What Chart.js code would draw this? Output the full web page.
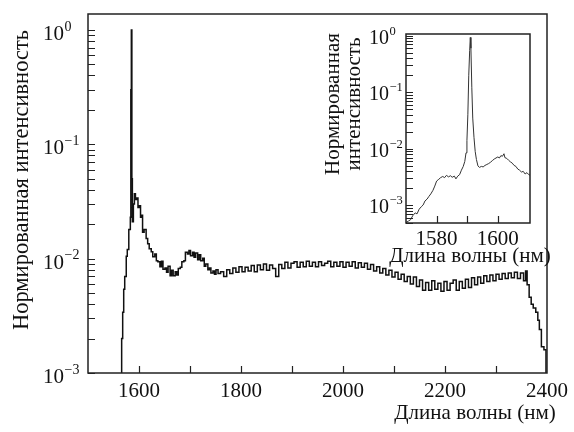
<!DOCTYPE html>
<html>
<head>
<meta charset="utf-8">
<script src="https://cdn.jsdelivr.net/npm/chart.js@4.4.1/dist/chart.umd.min.js"></script>
<style>
  html, body { margin: 0; padding: 0; background: #fff; }
  #wrap { position: relative; width: 574px; height: 432px; }
  #main { position: absolute; left: 0; top: 0; }
  #inset { position: absolute; left: 320px; top: 0; }
</style>
</head>
<body>
<div id="wrap">
  <canvas id="main" width="574" height="432"></canvas>
  <canvas id="inset" width="254" height="272"></canvas>
</div>
<script>
// ---- data ----
// main spectrum: wavelength (nm) and normalised intensity
var mainWavelength = [
  1560, 1566, 1568, 1570, 1572, 1575, 1577, 1580, 1583, 1584, 1585, 1586, 1587, 1589, 1591, 1593,
  1595, 1598, 1600, 1603, 1605, 1607, 1610, 1614, 1617, 1620, 1624, 1627, 1631, 1634, 1637, 1641,
  1644, 1647, 1651, 1654, 1657, 1661, 1664, 1667, 1671, 1674, 1677, 1681, 1684, 1688, 1691, 1695,
  1698, 1701, 1705, 1708, 1711, 1715, 1718, 1721, 1725, 1728, 1731, 1735, 1738, 1741, 1745, 1748,
  1751, 1755, 1760, 1766, 1772, 1778, 1784, 1790, 1796, 1802, 1808, 1814, 1820, 1826, 1832, 1838,
  1844, 1850, 1856, 1862, 1868, 1874, 1880, 1886, 1892, 1898, 1904, 1910, 1916, 1922, 1928, 1934,
  1940, 1946, 1952, 1958, 1964, 1970, 1976, 1982, 1988, 1994, 2000, 2006, 2012, 2018, 2024, 2030,
  2036, 2042, 2048, 2054, 2060, 2066, 2072, 2078, 2084, 2090, 2096, 2102, 2108, 2114, 2120, 2126,
  2132, 2138, 2144, 2150, 2156, 2162, 2168, 2174, 2180, 2186, 2192, 2198, 2204, 2210, 2216, 2222,
  2228, 2234, 2240, 2246, 2252, 2258, 2264, 2270, 2276, 2282, 2288, 2294, 2300, 2306, 2312, 2318,
  2324, 2330, 2336, 2342, 2348, 2354, 2358, 2361, 2365, 2369, 2373, 2378, 2382, 2385, 2389, 2394,
  2398, 2400
];
var mainIntensity = [
  0.0008, 0.0020, 0.0034, 0.0054, 0.0070, 0.0105, 0.0120, 0.0180, 0.0230, 0.30, 1.0, 0.050, 0.021, 0.030, 0.037, 0.033,
  0.034, 0.028, 0.029, 0.023, 0.024, 0.017, 0.018, 0.0150, 0.0135, 0.0122, 0.0115, 0.0104, 0.0110, 0.0096, 0.0094, 0.0085,
  0.0095, 0.0081, 0.0083, 0.0076, 0.0086, 0.0071, 0.0079, 0.0071, 0.0077, 0.0072, 0.0082, 0.0084, 0.0094, 0.0096, 0.0114, 0.0110,
  0.0118, 0.0106, 0.0114, 0.0103, 0.0112, 0.0098, 0.0108, 0.0096, 0.0101, 0.0086, 0.0090, 0.0080, 0.0083, 0.0075, 0.0078, 0.0073,
  0.0080, 0.0074, 0.0077, 0.0070, 0.0080, 0.0074, 0.0083, 0.0076, 0.0085, 0.0077, 0.0084, 0.0078, 0.0087, 0.0077, 0.0088, 0.0080,
  0.0090, 0.0079, 0.0088, 0.0082, 0.0070, 0.0089, 0.0082, 0.0093, 0.0083, 0.0091, 0.0094, 0.0084, 0.0093, 0.0085, 0.0095, 0.0086,
  0.0093, 0.0085, 0.0094, 0.0087, 0.0091, 0.0095, 0.0085, 0.0093, 0.0086, 0.0094, 0.0084, 0.0093, 0.0086, 0.0094, 0.0083, 0.0092,
  0.0084, 0.0091, 0.0081, 0.0089, 0.0078, 0.0085, 0.0075, 0.0082, 0.0072, 0.0079, 0.0069, 0.0076, 0.0066, 0.0073, 0.0063, 0.0070,
  0.0060, 0.0069, 0.0057, 0.0065, 0.0053, 0.0062, 0.0053, 0.0064, 0.0054, 0.0061, 0.0052, 0.0063, 0.0053, 0.0061, 0.0065, 0.0053,
  0.0063, 0.0055, 0.0066, 0.0056, 0.0068, 0.0059, 0.0069, 0.0061, 0.0071, 0.0063, 0.0072, 0.0064, 0.0073, 0.0066, 0.0074, 0.0067,
  0.0075, 0.0068, 0.0076, 0.0067, 0.0075, 0.0064, 0.0078, 0.0059, 0.0046, 0.0040, 0.0037, 0.0034, 0.0029, 0.0024, 0.0017, 0.0016,
  0.0009, 0.0005
];

// inset: zoom on the peak
var insetWavelength = [
  1570.0, 1570.8, 1571.5, 1572.2, 1573.0, 1573.6, 1574.3, 1575.0, 1575.6, 1576.2, 1576.9, 1577.5, 1578.1, 1578.8, 1579.4, 1580.0,
  1580.7, 1581.3, 1582.0, 1582.6, 1583.2, 1583.9, 1584.5, 1585.1, 1585.8, 1586.3, 1586.9, 1587.5, 1588.1, 1588.7, 1589.2, 1589.6,
  1589.9, 1590.2, 1590.5, 1590.8, 1591.0, 1591.2, 1591.5, 1591.8, 1592.2, 1592.6, 1593.0, 1593.5, 1594.0, 1594.6, 1595.2, 1595.8,
  1596.4, 1597.0, 1597.6, 1598.2, 1598.8, 1599.4, 1600.0, 1600.5, 1601.0, 1601.5, 1602.0, 1602.3, 1602.9, 1603.5, 1604.1, 1604.7,
  1605.3, 1605.9, 1606.5, 1607.1, 1607.7, 1608.3, 1608.9, 1609.5, 1610.1, 1610.6
];
var insetIntensity = [
  0.00050, 0.00053, 0.00056, 0.00066, 0.00074, 0.00071, 0.00086, 0.00095, 0.00102, 0.0012, 0.0013, 0.00145, 0.0016, 0.00185, 0.0022, 0.0027,
  0.0029, 0.0031, 0.00325, 0.0031, 0.0034, 0.0032, 0.00335, 0.00315, 0.0033, 0.00295, 0.0033, 0.0035, 0.0042, 0.0049, 0.0060, 0.0085,
  0.014, 0.040, 0.20, 0.55, 0.93, 0.60, 0.12, 0.035, 0.016, 0.009, 0.0065, 0.0050, 0.0047, 0.0049, 0.0048, 0.0051,
  0.0053, 0.0055, 0.0058, 0.0062, 0.0066, 0.0069, 0.0072, 0.0069, 0.0076, 0.0074, 0.0082, 0.0070, 0.0068, 0.0063, 0.0059, 0.0056,
  0.0051, 0.0049, 0.0044, 0.0042, 0.0039, 0.0040, 0.0036, 0.0038, 0.0035, 0.0034
];

var mainXLabels = [1600, 1800, 2000, 2200, 2400];
var insetXLabels = [1580, 1600];
var yTitle = "Нормированная интенсивность";
var xTitle = "Длина волны (нм)";

var serif = '"Liberation Serif", "DejaVu Serif", serif';

function toPoints(xs, ys) {
  return xs.map(function (x, i) { return { x: x, y: ys[i] }; });
}

// draws "10" with a superscript exponent
function drawPower(ctx, x, y, exp, big, small) {
  ctx.font = big + "px " + serif;
  ctx.textAlign = "left";
  ctx.textBaseline = "alphabetic";
  ctx.fillText("10", x, y);
  var w = ctx.measureText("10").width;
  ctx.font = small + "px " + serif;
  ctx.fillText(exp, x + w + 0.5, y - big * 0.45);
}

// frame, inward ticks, log labels and titles
function decor(cfg) {
  return {
    id: "decor",
    afterDraw: function (chart) {
      var ctx = chart.ctx, a = chart.chartArea;
      var xs = chart.scales.x, ys = chart.scales.y;
      ctx.save();
      ctx.strokeStyle = "#222";
      ctx.fillStyle = "#111";
      ctx.lineWidth = cfg.frameWidth;
      ctx.strokeRect(a.left, a.top, a.right - a.left, a.bottom - a.top);

      ctx.lineWidth = 1.2;
      ctx.beginPath();
      xs.ticks.forEach(function (t) {
        var px = xs.getPixelForValue(t.value);
        if (px < a.left + 3 || px > a.right - 3) return;
        ctx.moveTo(Math.round(px) + 0.5, a.bottom);
        ctx.lineTo(Math.round(px) + 0.5, a.bottom - cfg.tickLen);
      });
      for (var d = -4; d <= 0; d++) {
        for (var m = 1; m <= 9; m++) {
          var v = m * Math.pow(10, d);
          if (v < ys.min * 0.999 || v > ys.max * 1.001) continue;
          var py = Math.round(ys.getPixelForValue(v)) + 0.5;
          ctx.moveTo(a.left, py);
          ctx.lineTo(a.left + cfg.tickLen, py);
        }
      }
      ctx.stroke();

      for (var e = -3; e <= 0; e++) {
        var yy = ys.getPixelForValue(Math.pow(10, e));
        drawPower(ctx, cfg.labelX, yy + cfg.labelDy, e === 0 ? "0" : "\u2212" + (-e), cfg.big, cfg.small);
      }

      ctx.textAlign = "center";
      ctx.textBaseline = "middle";
      ctx.font = cfg.xTitleSize + "px " + serif;
      ctx.fillText(xTitle, cfg.xTitle[0], cfg.xTitle[1]);
      ctx.font = cfg.yTitleSize + "px " + serif;
      cfg.yTitles.forEach(function (t) {
        ctx.save();
        ctx.translate(t[1], t[2]);
        ctx.rotate(-Math.PI / 2);
        ctx.fillText(t[0], 0, 0);
        ctx.restore();
      });
      ctx.restore();
    }
  };
}

function build() {
  // Main spectrum
  var ctx1 = document.getElementById("main").getContext("2d");
  new Chart(ctx1, {
    type: "line",
    data: {
      datasets: [{
        data: toPoints(mainWavelength, mainIntensity),
        borderColor: "#111",
        borderWidth: 1.5,
        stepped: true,
        pointRadius: 0,
        fill: false
      }]
    },
    options: {
      responsive: false,
      animation: false,
      events: [],
      layout: { padding: { left: 0, top: 14, right: 24, bottom: 0 } },
      plugins: { legend: { display: false }, tooltip: { enabled: false } },
      scales: {
        x: {
          type: "linear", min: 1500, max: 2400,
          grid: { display: false, drawTicks: false },
          border: { display: false },
          ticks: {
            stepSize: 100, padding: 6, color: "#111", maxRotation: 0, autoSkip: false,
            font: { family: serif, size: 21 },
            callback: function (v) { return mainXLabels.indexOf(v) >= 0 ? String(v) : ""; }
          },
          afterFit: function (s) { s.height = 59; }
        },
        y: {
          type: "logarithmic", min: 0.001, max: 1.38,
          grid: { display: false, drawTicks: false },
          border: { display: false },
          ticks: { display: false },
          afterFit: function (s) { s.width = 88; }
        }
      }
    },
    plugins: [decor({
      frameWidth: 1.5, tickLen: 7, labelX: 43, labelDy: 10, big: 21, small: 14,
      xTitleSize: 21, yTitleSize: 22.5, xTitle: [475, 413],
      yTitles: [[yTitle, 22, 180]]
    })]
  });

  // Inset
  var ctx2 = document.getElementById("inset").getContext("2d");
  new Chart(ctx2, {
    type: "line",
    data: {
      datasets: [{
        data: toPoints(insetWavelength, insetIntensity),
        borderColor: "#333",
        borderWidth: 1,
        pointRadius: 0,
        fill: false
      }]
    },
    options: {
      responsive: false,
      animation: false,
      events: [],
      layout: { padding: { left: 0, top: 34, right: 44, bottom: 0 } },
      plugins: { legend: { display: false }, tooltip: { enabled: false } },
      scales: {
        x: {
          type: "linear", min: 1570, max: 1610.5,
          grid: { display: false, drawTicks: false },
          border: { display: false },
          ticks: {
            stepSize: 10, padding: 4, color: "#111", maxRotation: 0, autoSkip: false,
            font: { family: serif, size: 21 },
            callback: function (v) { return insetXLabels.indexOf(v) >= 0 ? String(v) : ""; }
          },
          afterFit: function (s) { s.height = 49; }
        },
        y: {
          type: "logarithmic", min: 0.00049, max: 1.07,
          grid: { display: false, drawTicks: false },
          border: { display: false },
          ticks: { display: false },
          afterFit: function (s) { s.width = 86; }
        }
      }
    },
    plugins: [decor({
      frameWidth: 1.5, tickLen: 7, labelX: 49, labelDy: 8, big: 20, small: 12.5,
      xTitleSize: 21, yTitleSize: 21, xTitle: [150, 256],
      yTitles: [["Нормированная", 13, 104], ["интенсивность", 34, 104]]
    })]
  });
}

document.fonts.load('21px "Liberation Serif"').then(build, build);
</script>
</body>
</html>
